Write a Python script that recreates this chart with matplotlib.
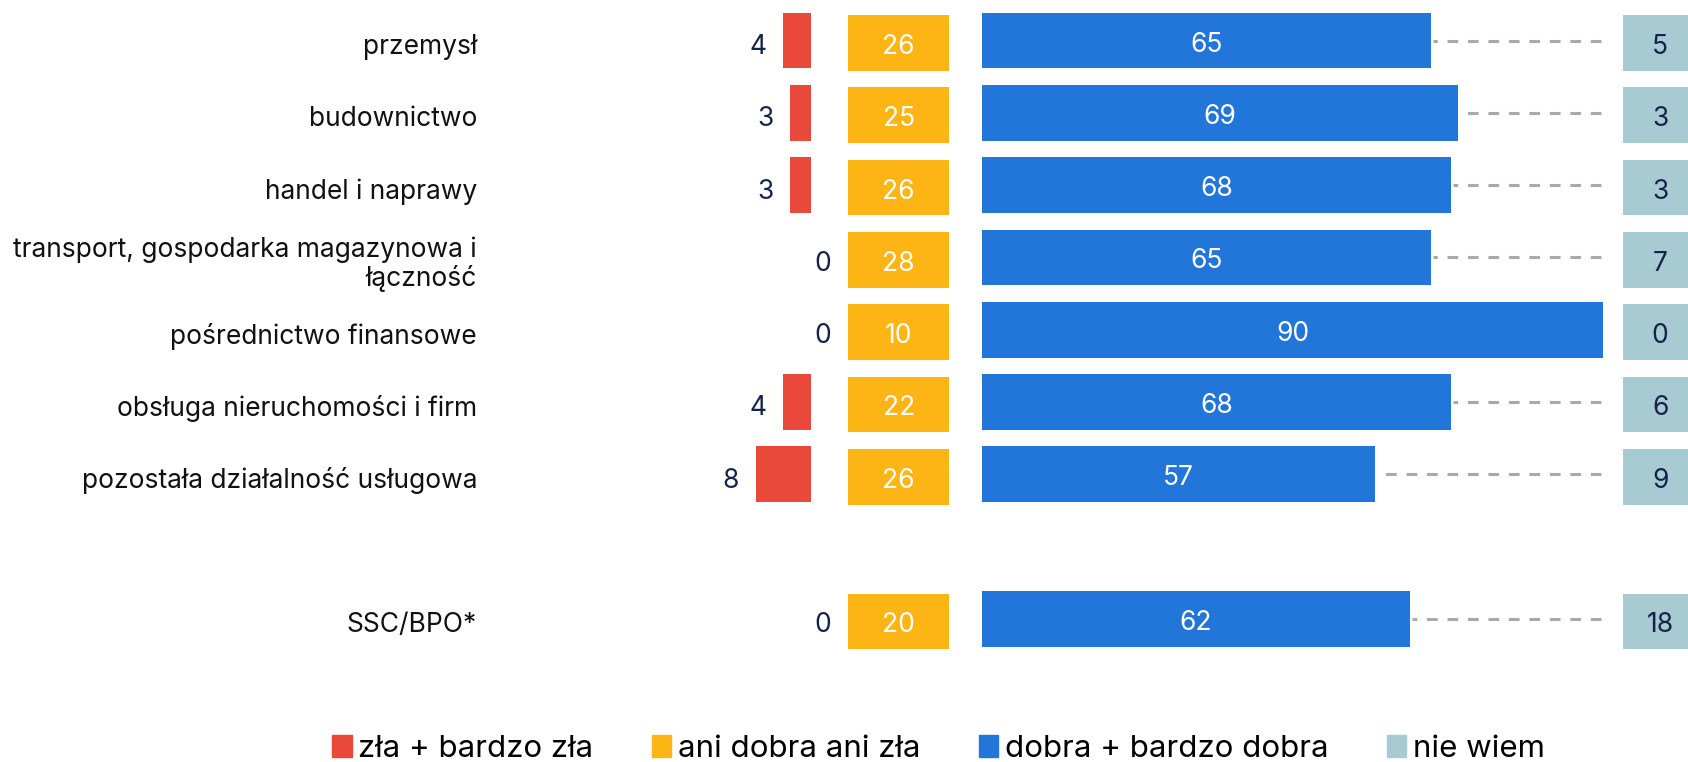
import matplotlib
matplotlib.use("Agg")
import matplotlib.pyplot as plt
from matplotlib.patches import Patch

plt.rcParams['font.family'] = ['Inter', 'DejaVu Sans']

categories = ["przemysł", "budownictwo", "handel i naprawy",
              "transport, gospodarka magazynowa i\nłączność",
              "pośrednictwo finansowe", "obsługa nieruchomości i firm",
              "pozostała działalność usługowa", "SSC/BPO*"]
positions = [0, 1, 2, 3, 4, 5, 6, 8]
bad = [4, 3, 3, 0, 0, 4, 8, 0]
neutral = [26, 25, 26, 28, 10, 22, 26, 20]
good = [65, 69, 68, 65, 90, 68, 57, 62]
dont_know = [5, 3, 3, 7, 0, 6, 9, 18]
legend_labels = ["zła + bardzo zła", "ani dobra ani zła", "dobra + bardzo dobra", "nie wiem"]

C_RED = "#E8493A"
C_YEL = "#FDB515"
C_BLUE = "#2376D9"
C_GREY = "#A7CAD3"
C_TXT = "#16224A"

W, H = 1688, 762
fig = plt.figure(figsize=(W / 100, H / 100), dpi=100)

PX_PER_UNIT = 6.9
row_h = 72.3
top_px = 43
ylim = ((H - top_px) / row_h, -top_px / row_h)
off = 2.5 / row_h
toff = 4.0 / row_h   # text drop
bh = 0.77
FS = 19


def add_ax(x0, x1):
    ax = fig.add_axes([x0 / W, 0, (x1 - x0) / W, 1])
    ax.set_ylim(*ylim)
    ax.axis("off")
    return ax

# category labels
axl = add_ax(0, 477)
axl.set_xlim(0, 1)
for p, c in zip(positions, categories):
    axl.text(1, p + toff, c, ha="right", va="center", fontsize=FS, color="#111111",
             linespacing=1.1)

# red bars (grow leftwards)
red_x0, red_x1 = 600, 810.7
axr = add_ax(red_x0, red_x1)
axr.set_xlim((red_x1 - red_x0) / PX_PER_UNIT, 0)
axr.barh([p - off for p in positions], bad, height=bh, color=C_RED)
for p, v in zip(positions, bad):
    if v > 0:
        axr.annotate(str(v), (v, p + toff), xytext=(-12, 0), textcoords="offset points",
                     ha="right", va="center", fontsize=FS, color=C_TXT)
    else:
        axr.annotate(str(v), (0, p + toff), xytext=(15, 0), textcoords="offset points",
                     ha="right", va="center", fontsize=FS, color=C_TXT)

# yellow fixed boxes
axy = add_ax(848, 949.3)
axy.set_xlim(0, 1)
axy.barh(positions, [1] * len(positions), height=bh, color=C_YEL)
for p, v in zip(positions, neutral):
    axy.text(0.5, p + toff, str(v), ha="center", va="center", fontsize=FS, color="white")

# blue bars
blue_x0 = 982
dash_end = 1600.7
axb = add_ax(blue_x0, W)
axb.set_xlim(0, (W - blue_x0) / PX_PER_UNIT)
axb.barh([p - off for p in positions], good, height=bh, color=C_BLUE)
dend = (dash_end - blue_x0) / PX_PER_UNIT
for p, v in zip(positions, good):
    axb.text(v / 2, p - off + toff, str(v), ha="center", va="center", fontsize=FS,
             color="white")
    if v < dend:
        axb.plot([dend, v + 0.3], [p - off, p - off], color="#A9A9A9", lw=2.2,
                 dashes=(3.5, 3.2))

# grey boxes
axg = add_ax(1622.7, W)
axg.set_xlim(0, (W - 1622.7) / 75)
axg.barh(positions, [1] * len(positions), height=bh, color=C_GREY)
for p, v in zip(positions, dont_know):
    axg.text(0.5, p + toff, str(v), ha="center", va="center", fontsize=FS, color=C_TXT)

handles = [Patch(color=c) for c in (C_RED, C_YEL, C_BLUE, C_GREY)]
fig.legend(handles, legend_labels, loc="lower center", bbox_to_anchor=(0.556, -0.026),
           ncol=4, frameon=False, fontsize=22.5, handlelength=0.63, handleheight=0.74,
           handletextpad=0.21, columnspacing=1.86, borderaxespad=0.2)

fig.savefig("out.png", dpi=100)
